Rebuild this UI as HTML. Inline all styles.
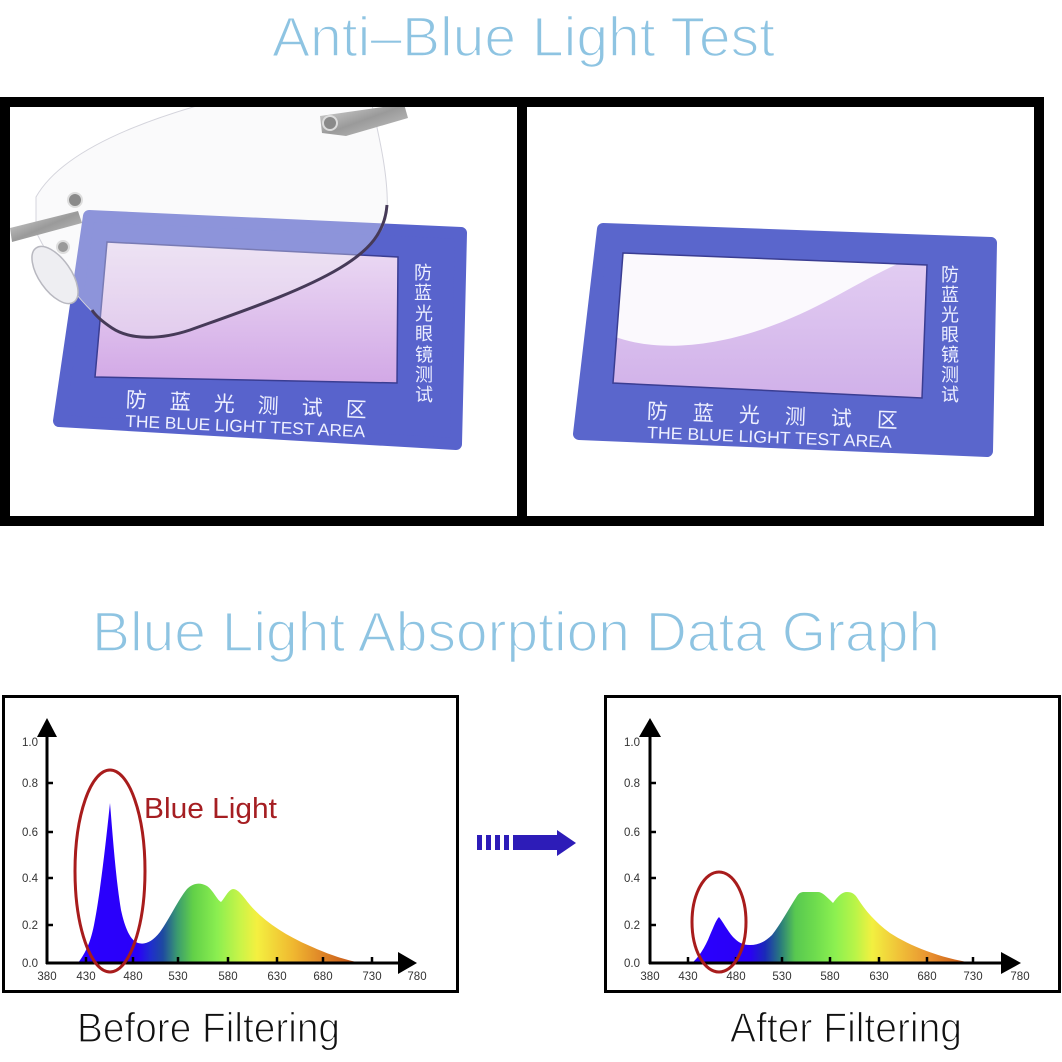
<!DOCTYPE html>
<html>
<head>
<meta charset="utf-8">
<style>
  html, body { margin:0; padding:0; background:#fff; }
  svg { display:block; }
</style>
</head>
<body>
<svg width="1062" height="1062" viewBox="0 0 1062 1062" xmlns="http://www.w3.org/2000/svg">
  <defs>
    <clipPath id="clipL"><rect x="10" y="107" width="507" height="409"/></clipPath>
    <clipPath id="clipR"><rect x="527" y="107" width="507" height="409"/></clipPath>
    <clipPath id="winRclip"><polygon points="623,253 927,265 922,398 613,383"/></clipPath>
    <linearGradient id="winL" x1="0" y1="0" x2="0" y2="1">
      <stop offset="0" stop-color="#ecdcf4"/>
      <stop offset="1" stop-color="#d2a8e6"/>
    </linearGradient>
    <linearGradient id="lavR" x1="0" y1="0" x2="0" y2="1">
      <stop offset="0" stop-color="#e2cdf2"/>
      <stop offset="1" stop-color="#cfaee8"/>
    </linearGradient>
    <linearGradient id="metal" x1="0" y1="0" x2="1" y2="1">
      <stop offset="0" stop-color="#d8d8d8"/>
      <stop offset="0.5" stop-color="#9a9a9a"/>
      <stop offset="1" stop-color="#c8c8c8"/>
    </linearGradient>
    <linearGradient id="specL" gradientUnits="userSpaceOnUse" x1="78" y1="0" x2="362" y2="0">
      <stop offset="0" stop-color="#2a00ff"/>
      <stop offset="0.211" stop-color="#2a00f8"/>
      <stop offset="0.254" stop-color="#1f2cd0"/>
      <stop offset="0.299" stop-color="#1e4aa0"/>
      <stop offset="0.349" stop-color="#3a9a70"/>
      <stop offset="0.405" stop-color="#62d048"/>
      <stop offset="0.489" stop-color="#8aee50"/>
      <stop offset="0.570" stop-color="#c8f448"/>
      <stop offset="0.630" stop-color="#f4f040"/>
      <stop offset="0.757" stop-color="#f0b830"/>
      <stop offset="0.852" stop-color="#e08828"/>
      <stop offset="0.958" stop-color="#c85a18"/>
      <stop offset="1" stop-color="#c04a10"/>
    </linearGradient>
    <linearGradient id="specR" gradientUnits="userSpaceOnUse" x1="692" y1="0" x2="973" y2="0">
      <stop offset="0" stop-color="#2a00ff"/>
      <stop offset="0.206" stop-color="#2a00f5"/>
      <stop offset="0.260" stop-color="#1a2ab8"/>
      <stop offset="0.313" stop-color="#28787e"/>
      <stop offset="0.367" stop-color="#58c850"/>
      <stop offset="0.438" stop-color="#6edc4e"/>
      <stop offset="0.509" stop-color="#8cf050"/>
      <stop offset="0.580" stop-color="#b8f448"/>
      <stop offset="0.641" stop-color="#f2f040"/>
      <stop offset="0.740" stop-color="#f0c038"/>
      <stop offset="0.847" stop-color="#e89030"/>
      <stop offset="0.954" stop-color="#cc6018"/>
      <stop offset="1" stop-color="#c04a10"/>
    </linearGradient>
  </defs>

  <!-- Title 1 -->
  <text x="272" y="56" font-family="'Liberation Sans', sans-serif" font-size="56" fill="#8ec4e2" stroke="#fff" stroke-width="1.6" textLength="503" lengthAdjust="spacingAndGlyphs">Anti–Blue Light Test</text>

  <!-- Top frame -->
  <rect x="0" y="97" width="1044" height="429" fill="#000"/>
  <rect x="10" y="107" width="507" height="409" fill="#fff"/>
  <rect x="527" y="107" width="507" height="409" fill="#fff"/>

  <!-- Left photo -->
  <g clip-path="url(#clipL)">
    <polygon points="89,216 461,233 456,444 59,421" fill="#5863cc" stroke="#5863cc" stroke-width="12" stroke-linejoin="round"/>
    <polygon points="107,242 398,257 397,383 95,377" fill="url(#winL)" stroke="#3a3d92" stroke-width="1.5"/>
    <g font-family="'Liberation Sans', 'Noto Sans CJK SC', sans-serif" fill="#eef0ff">
      <g transform="rotate(2.5 246 410)" font-size="21" text-anchor="middle">
        <text x="136" y="412">防</text>
        <text x="180" y="412">蓝</text>
        <text x="224" y="412">光</text>
        <text x="268" y="412">测</text>
        <text x="312" y="412">试</text>
        <text x="356" y="412">区</text>
        <text x="246" y="432" font-size="17" textLength="240" lengthAdjust="spacingAndGlyphs">THE BLUE LIGHT TEST AREA</text>
      </g>
      <g font-size="18" text-anchor="middle">
        <text x="423" y="279">防</text>
        <text x="423" y="299">蓝</text>
        <text x="424" y="320">光</text>
        <text x="424" y="340">眼</text>
        <text x="424" y="361">镜</text>
        <text x="424" y="381">测</text>
        <text x="424" y="401">试</text>
      </g>
    </g>
    <!-- lens -->
    <path d="M36,232 L36,197 C58,158 120,128 200,105 L372,105 C380,140 389,180 387,212 C385,232 370,250 340,268 C300,292 240,312 190,330 C160,340 130,340 112,328 C85,310 55,270 36,232 Z" fill="#f0f0f4" fill-opacity="0.35" stroke="#d4d4dc" stroke-width="1"/>
    <path d="M387,205 C385,232 370,250 340,268 C300,292 240,312 190,330 C160,340 130,340 112,328 C100,320 95,315 92,310" fill="none" stroke="#463a58" stroke-width="3"/>
    <!-- metal parts -->
    <polygon points="320,116 404,104 408,118 346,136 322,133" fill="url(#metal)"/>
    <circle cx="330" cy="123" r="7" fill="#8a8a8a" stroke="#ddd" stroke-width="2"/>
    <polygon points="10,228 78,211 82,223 12,242" fill="url(#metal)"/>
    <circle cx="75" cy="200" r="7" fill="#8a8a8a" stroke="#ddd" stroke-width="2"/>
    <circle cx="63" cy="247" r="6" fill="#9a9a9a" stroke="#ddd" stroke-width="2"/>
    <ellipse cx="55" cy="275" rx="16" ry="33" transform="rotate(-35 55 275)" fill="#eeeef2" stroke="#b8b8c0" stroke-width="1.5"/>
  </g>

  <!-- Right photo -->
  <g clip-path="url(#clipR)">
    <polygon points="603,229 991,243 987,451 579,434" fill="#5a66cc" stroke="#5a66cc" stroke-width="12" stroke-linejoin="round"/>
    <polygon points="623,253 927,265 922,398 613,383" fill="#fbf9fd"/>
    <g clip-path="url(#winRclip)">
      <path d="M600,330 C640,352 700,350 760,330 C820,310 860,280 900,263 L940,260 L940,410 L600,410 Z" fill="url(#lavR)"/>
    </g>
    <polygon points="623,253 927,265 922,398 613,383" fill="none" stroke="#3a3d92" stroke-width="1.5"/>
    <g font-family="'Liberation Sans', 'Noto Sans CJK SC', sans-serif" fill="#eef0ff">
      <g transform="rotate(2.2 771 425)" font-size="21" text-anchor="middle">
        <text x="657" y="423">防</text>
        <text x="703" y="423">蓝</text>
        <text x="749" y="423">光</text>
        <text x="795" y="423">测</text>
        <text x="841" y="423">试</text>
        <text x="887" y="423">区</text>
        <text x="770" y="443" font-size="17" textLength="245" lengthAdjust="spacingAndGlyphs">THE BLUE LIGHT TEST AREA</text>
      </g>
      <g font-size="18" text-anchor="middle">
        <text x="950" y="281">防</text>
        <text x="950" y="301">蓝</text>
        <text x="950" y="321">光</text>
        <text x="950" y="341">眼</text>
        <text x="950" y="361">镜</text>
        <text x="950" y="381">测</text>
        <text x="950" y="401">试</text>
      </g>
    </g>
  </g>

  <!-- Title 2 -->
  <text x="92" y="651" font-family="'Liberation Sans', sans-serif" font-size="56" fill="#8ec4e2" stroke="#fff" stroke-width="1.6" textLength="848" lengthAdjust="spacingAndGlyphs">Blue Light Absorption Data Graph</text>

  <!-- Left chart -->
  <rect x="3.5" y="696.5" width="454" height="295" fill="#fff" stroke="#000" stroke-width="3"/>
  <path d="M78,963 C84,955 90,945 94,925 C99,900 104,860 110,803 C113,840 116,880 121,910 C125,928 130,940 138,943 C145,945 152,942 160,932 C170,918 178,900 187,889 C193,883 200,882 207,886 C213,890 217,900 221,902 C225,898 228,890 233,889 C238,889 242,895 250,905 C265,922 285,935 310,946 C330,955 345,960 362,963 Z" fill="url(#specL)"/>
  <g stroke="#000" stroke-width="3" fill="none">
    <line x1="47" y1="964" x2="47" y2="735"/>
    <line x1="46" y1="963" x2="400" y2="963"/>
  </g>
  <polygon points="47,718 37,737 57,737" fill="#000"/>
  <polygon points="417,963 398,952 398,974" fill="#000"/>
  <g stroke="#000" stroke-width="2.5">
    <line x1="47" y1="783" x2="53" y2="783"/>
    <line x1="47" y1="832" x2="53" y2="832"/>
    <line x1="47" y1="878" x2="53" y2="878"/>
    <line x1="47" y1="925" x2="53" y2="925"/>
    <line x1="86" y1="957" x2="86" y2="963"/>
    <line x1="133" y1="957" x2="133" y2="963"/>
    <line x1="178" y1="957" x2="178" y2="963"/>
    <line x1="228" y1="957" x2="228" y2="963"/>
    <line x1="277" y1="957" x2="277" y2="963"/>
    <line x1="323" y1="957" x2="323" y2="963"/>
    <line x1="372" y1="957" x2="372" y2="963"/>
  </g>
  <g font-family="'Liberation Sans', sans-serif" font-size="11.5" fill="#333" text-anchor="end">
    <text x="38" y="746">1.0</text>
    <text x="38" y="787">0.8</text>
    <text x="38" y="836">0.6</text>
    <text x="38" y="882">0.4</text>
    <text x="38" y="929">0.2</text>
    <text x="38" y="967">0.0</text>
  </g>
  <g font-family="'Liberation Sans', sans-serif" font-size="11.5" fill="#333" text-anchor="middle">
    <text x="47" y="980">380</text>
    <text x="86" y="980">430</text>
    <text x="133" y="980">480</text>
    <text x="178" y="980">530</text>
    <text x="228" y="980">580</text>
    <text x="277" y="980">630</text>
    <text x="323" y="980">680</text>
    <text x="372" y="980">730</text>
    <text x="417" y="980">780</text>
  </g>
  <ellipse cx="110" cy="871" rx="35" ry="101" fill="none" stroke="#a81c1c" stroke-width="3"/>
  <text x="144" y="818" font-family="'Liberation Sans', sans-serif" font-size="29" fill="#a51e22" textLength="133" lengthAdjust="spacingAndGlyphs">Blue Light</text>

  <!-- Middle arrow -->
  <g fill="#2d1cb8">
    <rect x="477" y="835" width="5" height="15"/>
    <rect x="486" y="835" width="5" height="15"/>
    <rect x="495" y="835" width="5" height="15"/>
    <rect x="504" y="835" width="5" height="15"/>
    <rect x="513" y="835" width="45" height="15"/>
    <polygon points="557,830 576,843 557,856"/>
  </g>

  <!-- Right chart -->
  <rect x="605.5" y="696.5" width="454" height="295" fill="#fff" stroke="#000" stroke-width="3"/>
  <path d="M692,963 C698,958 705,948 710,935 C714,926 716,920 719,917 C723,922 727,930 733,937 C738,942 742,945 750,945 C758,945 765,942 772,935 C780,925 788,910 797,896 C799,893 801,892 804,892 L818,892 C822,892 826,896 833,903 C838,896 842,892 847,892 C852,892 855,894 858,899 C865,910 875,922 890,933 C910,946 940,958 973,963 Z" fill="url(#specR)"/>
  <g stroke="#000" stroke-width="3" fill="none">
    <line x1="650" y1="964" x2="650" y2="735"/>
    <line x1="649" y1="963" x2="1003" y2="963"/>
  </g>
  <polygon points="650,718 639,737 661,737" fill="#000"/>
  <polygon points="1021,963 1001,952 1001,974" fill="#000"/>
  <g stroke="#000" stroke-width="2.5">
    <line x1="650" y1="783" x2="656" y2="783"/>
    <line x1="650" y1="832" x2="656" y2="832"/>
    <line x1="650" y1="878" x2="656" y2="878"/>
    <line x1="650" y1="925" x2="656" y2="925"/>
    <line x1="688" y1="957" x2="688" y2="963"/>
    <line x1="736" y1="957" x2="736" y2="963"/>
    <line x1="782" y1="957" x2="782" y2="963"/>
    <line x1="830" y1="957" x2="830" y2="963"/>
    <line x1="879" y1="957" x2="879" y2="963"/>
    <line x1="927" y1="957" x2="927" y2="963"/>
    <line x1="973" y1="957" x2="973" y2="963"/>
  </g>
  <g font-family="'Liberation Sans', sans-serif" font-size="11.5" fill="#333" text-anchor="end">
    <text x="640" y="746">1.0</text>
    <text x="640" y="787">0.8</text>
    <text x="640" y="836">0.6</text>
    <text x="640" y="882">0.4</text>
    <text x="640" y="929">0.2</text>
    <text x="640" y="967">0.0</text>
  </g>
  <g font-family="'Liberation Sans', sans-serif" font-size="11.5" fill="#333" text-anchor="middle">
    <text x="650" y="980">380</text>
    <text x="688" y="980">430</text>
    <text x="736" y="980">480</text>
    <text x="782" y="980">530</text>
    <text x="830" y="980">580</text>
    <text x="879" y="980">630</text>
    <text x="927" y="980">680</text>
    <text x="973" y="980">730</text>
    <text x="1020" y="980">780</text>
  </g>
  <ellipse cx="719" cy="922" rx="27" ry="50" fill="none" stroke="#a81c1c" stroke-width="3"/>

  <!-- Bottom labels -->
  <text x="77" y="1042" font-family="'Liberation Sans', sans-serif" font-size="42" fill="#111" stroke="#fff" stroke-width="1.2" textLength="263" lengthAdjust="spacingAndGlyphs">Before Filtering</text>
  <text x="730" y="1042" font-family="'Liberation Sans', sans-serif" font-size="42" fill="#111" stroke="#fff" stroke-width="1.2" textLength="232" lengthAdjust="spacingAndGlyphs">After Filtering</text>
</svg>
</body>
</html>
